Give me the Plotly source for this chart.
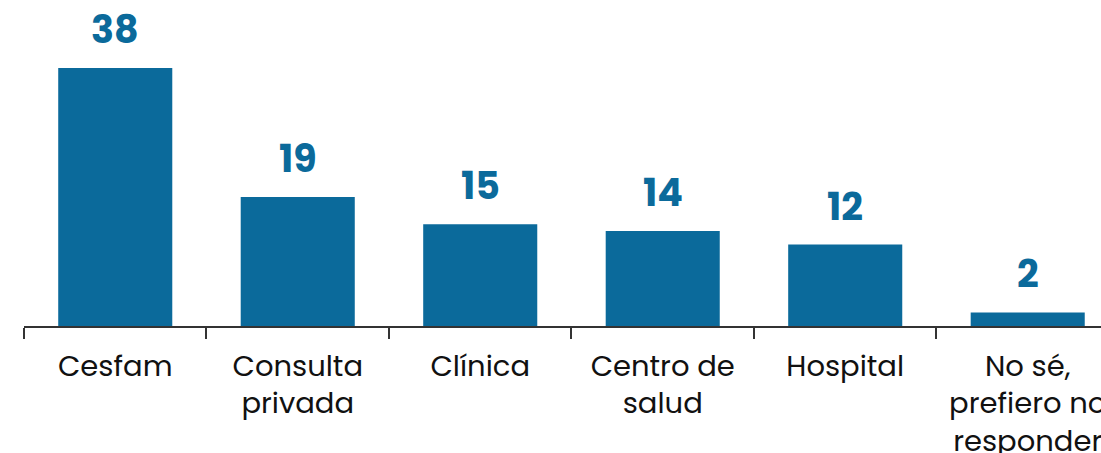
import plotly.graph_objects as go

categories = ["Cesfam", "Consulta<br>privada", "Clínica", "Centro de<br>salud",
              "Hospital", "No sé,<br>prefiero no<br>responder"]
values = [38, 19, 15, 14, 12, 2]

bar_color = "#0b6a9b"
axis_color = "#333333"
label_font = "Poppins, Open Sans, sans-serif"

fig = go.Figure(
    go.Bar(
        x=categories,
        y=values,
        marker=dict(color=bar_color, line=dict(width=0)),
        width=0.625,
        hoverinfo="skip",
    )
)

# value labels above each bar
for cat, val in zip(categories, values):
    fig.add_annotation(
        x=cat, y=val, text=f"<b>{val}</b>", showarrow=False,
        yanchor="bottom", yshift=10,
        font=dict(family=label_font, size=38, color=bar_color),
    )

fig.update_layout(
    width=1101, height=453,
    margin=dict(l=24, r=0, t=0, b=127, autoexpand=False),
    paper_bgcolor="white", plot_bgcolor="white",
    showlegend=False,
    bargap=0.375,
)
fig.update_xaxes(
    range=[-0.5, 5.4016],
    automargin=False,
    showline=True, linecolor=axis_color, linewidth=1.5,
    ticks="outside", tickson="boundaries", ticklen=11, tickwidth=1.5,
    tickcolor=axis_color,
    tickfont=dict(family=label_font, size=29, color="#111111"),
    ticklabelstandoff=13,
    showgrid=False, zeroline=False,
)
fig.update_yaxes(range=[0, 48], visible=False, showgrid=False, zeroline=False,
                 automargin=False)

fig.write_html("out.html")
